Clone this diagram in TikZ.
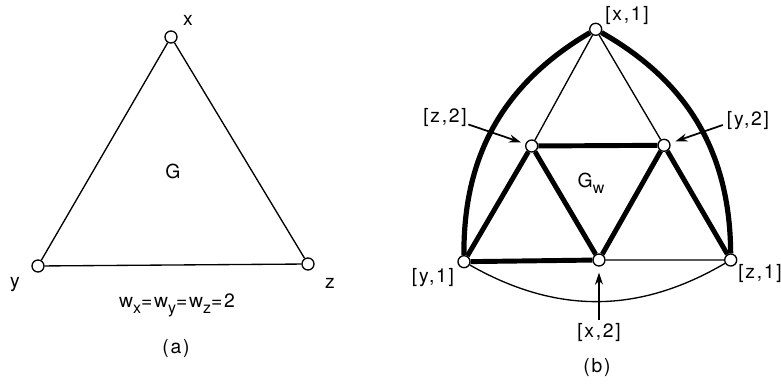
\documentclass[tikz,border=0pt]{standalone}
\usepackage{fontspec}
\setmainfont{TeX Gyre Heros}[LetterSpace=9]
\usetikzlibrary{arrows.meta}
\newcommand\lowsub[1]{\raisebox{-0.6ex}{\fontsize{12}{13}\selectfont #1}}
\begin{document}
\begin{tikzpicture}[x=0.75pt,y=0.75pt,
  vtx/.style={circle,draw,fill=white,line width=1pt,inner sep=0pt,minimum size=9pt},
  lbl/.style={inner sep=0pt,font=\fontsize{14.5}{17}\selectfont},
  thin/.style={line width=1pt},
  thick/.style={line width=3.7pt},
  arcthick/.style={line width=3.9pt},
  pointer/.style={line width=1.3pt,-{Stealth[length=9pt,width=6pt]}}]
\path[use as bounding box] (0,0) rectangle (781,-384);
% ---------- (a) ----------
\node[vtx] (x) at (171,-37) {};
\node[vtx] (y) at (38,-266) {};
\node[vtx] (z) at (308,-264) {};
\draw[thin] (x) -- (y) (y) -- (z) (z) -- (x);
\node[lbl] (lx) at (188,-20) {x};
\node[lbl] (ly) at (15,-285) {y};
\node[lbl] (lz) at (330,-283) {z};
\node[lbl] (G) at (173,-171) {G};
\node[lbl] (wts) at (177,-305) {w\lowsub{x}=w\lowsub{y}=w\lowsub{z}=2};
\node[lbl] (capa) at (176,-349) {(a)};
% ---------- (b) ----------
\node[vtx] (x1) at (595.7,-29.3) {};
\node[vtx] (y1) at (464,-261.7) {};
\node[vtx] (z1) at (730.7,-260) {};
\node[vtx] (z2) at (531.7,-146) {};
\node[vtx] (y2) at (664,-145.3) {};
\node[vtx] (x2) at (599,-260) {};
\draw[arcthick] (x1) to[bend right=30] (y1);
\draw[arcthick] (x1) to[bend left=30] (z1);
\draw[thin] (y1) to[bend right=30] (z1);
\draw[thin] (x1) -- (z2) (x1) -- (y2) (x2) -- (z1);
\draw[thick] (y1) -- (z2) (z2) -- (x2) (x2) -- (y2) (y2) -- (z1) (z2) -- (y2) (y1) -- (x2);
\node[lbl] (lx1) at (627,-16) {[x,1]};
\node[lbl] (lz2) at (445,-118) {[z,2]};
\node[lbl] (ly2) at (748,-121) {[y,2]};
\node[lbl] (ly1) at (433,-278) {[y,1]};
\node[lbl] (lx2) at (599,-333) {[x,2]};
\node[lbl] (lz1) at (760,-274) {[z,1]};
\node[lbl] (Gw) at (591,-183) {G\lowsub{w}};
\node[lbl] (capb) at (597,-368) {(b)};
\draw[pointer,shorten <=1pt,shorten >=3.5pt] ([yshift=-4.5pt]lz2.east) -- (z2);
\draw[pointer,shorten <=3pt,shorten >=4pt] ([yshift=-2pt]ly2.west) -- (y2);
\draw[pointer,shorten <=3pt,shorten >=4.5pt] (lx2.north) -- (x2);
\end{tikzpicture}
\end{document}
